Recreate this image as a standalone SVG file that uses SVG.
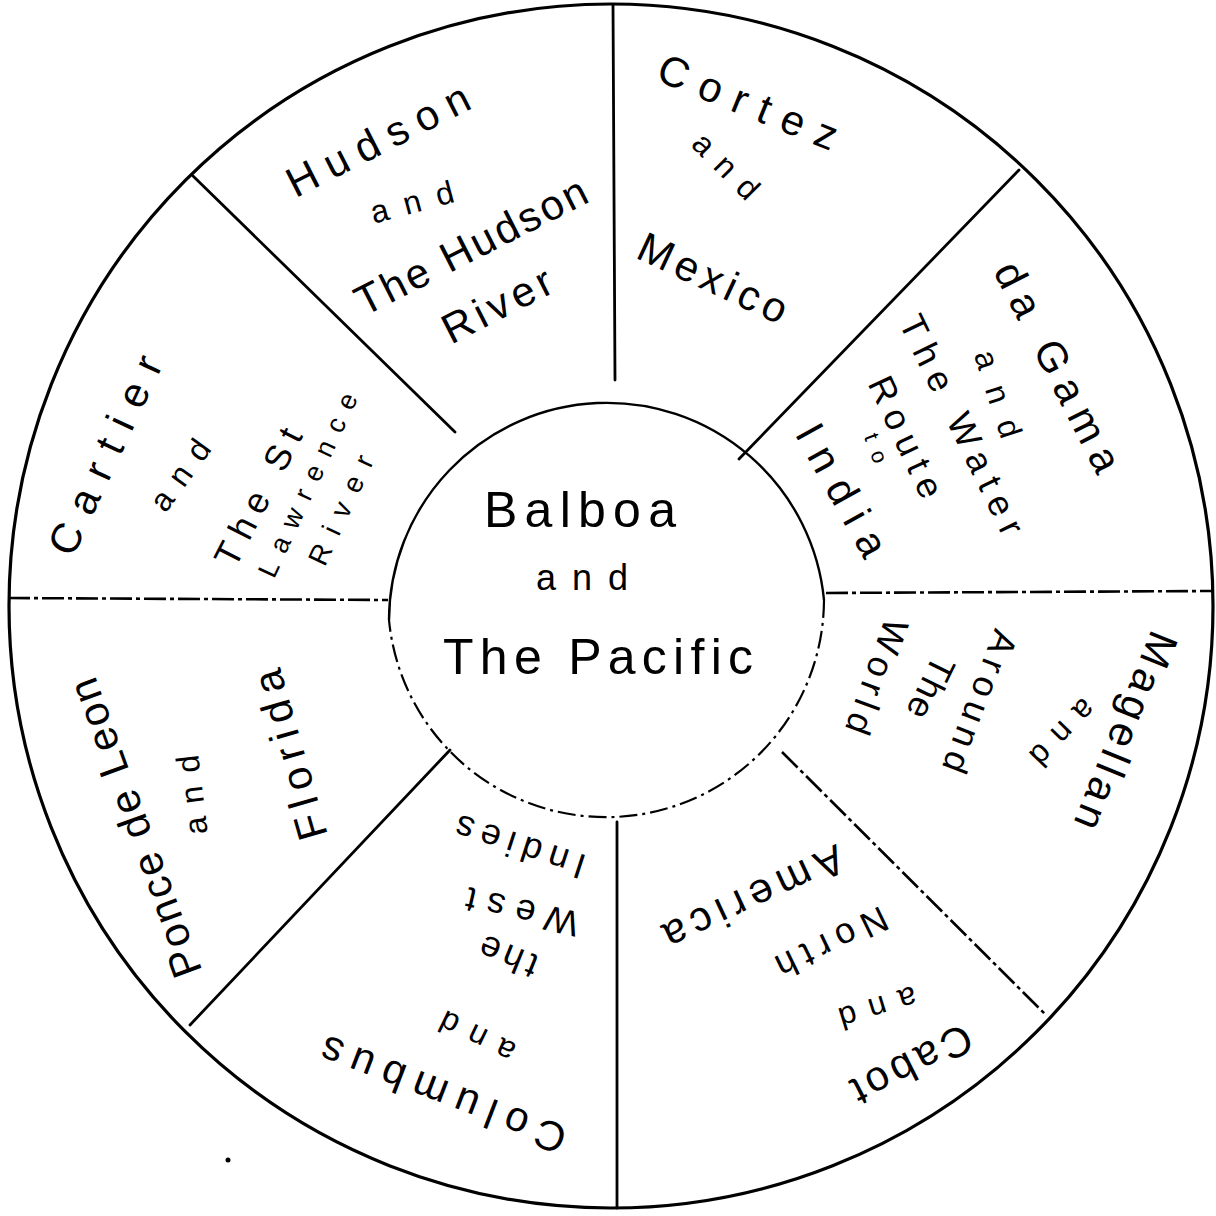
<svg xmlns="http://www.w3.org/2000/svg" width="1216" height="1216" viewBox="0 0 1216 1216">
<style>
.bg{fill:#fff}
.rim{fill:none;stroke:#000;stroke-width:3.2}
.hub{fill:none;stroke:#000;stroke-width:2.4}
.hubd{fill:none;stroke:#000;stroke-width:2.2;stroke-dasharray:18 5 3 5}
.ln{stroke:#000;stroke-width:2.8;fill:none;stroke-linecap:round}
.lnd{stroke:#000;stroke-width:2.6;fill:none;stroke-dasharray:22 4 4 4}
text{font-family:"Liberation Sans","DejaVu Sans",sans-serif;fill:#000;text-anchor:middle;dominant-baseline:central}
.l{font-size:42px}
.m{font-size:36px}
.s{font-size:32px}
.xs{font-size:22px}
</style>
<rect class="bg" x="0" y="0" width="1216" height="1216"/>
<g id="wheel">
<circle class="rim" cx="611" cy="606" r="602"/>
</g>
<g id="connectors">
<line class="ln" x1="613" y1="5" x2="615" y2="380"/>
<line class="ln" x1="193" y1="176" x2="455" y2="432"/>
<line class="ln" x1="1019" y1="170" x2="739" y2="459"/>
<line class="lnd" x1="8" y1="598" x2="388" y2="600"/>
<line class="lnd" x1="826" y1="593" x2="1212" y2="591"/>
<line class="ln" x1="450" y1="750" x2="190" y2="1025"/>
<line class="lnd" x1="782" y1="752" x2="1046" y2="1015"/>
<line class="ln" x1="617" y1="822" x2="617" y2="1208"/>
</g>
<g id="hub">
<path class="hub" d="M 389 620 A 218 218 0 0 1 824 600"/>
<path class="hubd" d="M 824 600 A 218 218 0 0 1 389 620"/>
<text x="580" y="510" style="font-size:50px" textLength="192" lengthAdjust="spacing">Balboa</text>
<text x="582" y="577" class="m" textLength="92" lengthAdjust="spacing">and</text>
<text x="598" y="657" style="font-size:50px" textLength="310" lengthAdjust="spacing">The Pacific</text>
</g>
<g id="hudson">
<text class="l" transform="translate(378,140) rotate(-27)" textLength="200" lengthAdjust="spacing">Hudson</text>
<text class="s" transform="translate(412,202) rotate(-15)" textLength="85" lengthAdjust="spacing">and</text>
<text class="l" transform="translate(471,246) rotate(-27)" textLength="255" lengthAdjust="spacing">The Hudson</text>
<text class="l" transform="translate(497,305) rotate(-27)" textLength="118" lengthAdjust="spacing">River</text>
</g>
<g id="cortez">
<text class="l" transform="translate(748,102) rotate(22)" textLength="190" lengthAdjust="spacing">Cortez</text>
<text class="s" transform="translate(726,166) rotate(45)" textLength="80" lengthAdjust="spacing">and</text>
<text class="l" transform="translate(713,278) rotate(25)" textLength="160" lengthAdjust="spacing">Mexico</text>
</g>
<g id="dagama">
<text class="l" transform="translate(1058,367) rotate(63)" textLength="230" lengthAdjust="spacing">da Gama</text>
<text class="s" transform="translate(998,394) rotate(72)" textLength="90" lengthAdjust="spacing">and</text>
<text class="m" transform="translate(962,425) rotate(64)" textLength="240" lengthAdjust="spacing">The Water</text>
<text class="m" transform="translate(906,437) rotate(65)" textLength="130" lengthAdjust="spacing">Route</text>
<text class="xs" transform="translate(876,448) rotate(70)" textLength="30" lengthAdjust="spacing">to</text>
<text class="l" transform="translate(842,490) rotate(61)" textLength="145" lengthAdjust="spacing">India</text>
</g>
<g id="magellan">
<text class="l" transform="translate(1126,731) rotate(112)" textLength="210" lengthAdjust="spacing">Magellan</text>
<text class="s" transform="translate(1063,733) rotate(134)" textLength="80" lengthAdjust="spacing">and</text>
<text class="m" transform="translate(980,702) rotate(111)" textLength="150" lengthAdjust="spacing">Around</text>
<text class="m" transform="translate(931,688) rotate(116)" textLength="65" lengthAdjust="spacing">The</text>
<text class="m" transform="translate(877,677) rotate(110)" textLength="120" lengthAdjust="spacing">World</text>
</g>
<g id="cabot">
<text class="l" transform="translate(912,1065) rotate(153)" textLength="130" lengthAdjust="spacing">Cabot</text>
<text class="s" transform="translate(878,1008) rotate(163)" textLength="80" lengthAdjust="spacing">and</text>
<text class="m" transform="translate(832,943) rotate(154)" textLength="120" lengthAdjust="spacing">North</text>
<text class="l" transform="translate(754,898) rotate(155)" textLength="195" lengthAdjust="spacing">America</text>
</g>
<g id="columbus">
<text class="l" transform="translate(443,1095) rotate(201)" textLength="260" lengthAdjust="spacing">Columbus</text>
<text class="s" transform="translate(477,1037) rotate(206)" textLength="80" lengthAdjust="spacing">and</text>
<text class="m" transform="translate(508,957) rotate(202)" textLength="60" lengthAdjust="spacing">the</text>
<text class="m" transform="translate(522,912) rotate(193)" textLength="115" lengthAdjust="spacing">West</text>
<text class="m" transform="translate(520,847) rotate(198)" textLength="135" lengthAdjust="spacing">Indies</text>
</g>
<g id="ponce">
<text class="l" transform="translate(135,828) rotate(-110)" textLength="315" lengthAdjust="spacing">Ponce de Leon</text>
<text class="s" transform="translate(192,795) rotate(-97)" textLength="80" lengthAdjust="spacing">and</text>
<text class="l" transform="translate(290,755) rotate(-106)" textLength="175" lengthAdjust="spacing">Florida</text>
</g>
<g id="cartier">
<text class="l" transform="translate(105,455) rotate(-65)" textLength="215" lengthAdjust="spacing">Cartier</text>
<text class="s" transform="translate(180,475) rotate(-54)" textLength="80" lengthAdjust="spacing">and</text>
<text class="m" transform="translate(258,497) rotate(-63)" textLength="150" lengthAdjust="spacing">The St</text>
<text style="font-size:27px" transform="translate(308,485) rotate(-65)" textLength="200" lengthAdjust="spacing">Lawrence</text>
<text style="font-size:28px" transform="translate(341,510) rotate(-65)" textLength="118" lengthAdjust="spacing">River</text>
</g>
<circle cx="228" cy="1160" r="2.5" fill="#000"/>
</svg>
